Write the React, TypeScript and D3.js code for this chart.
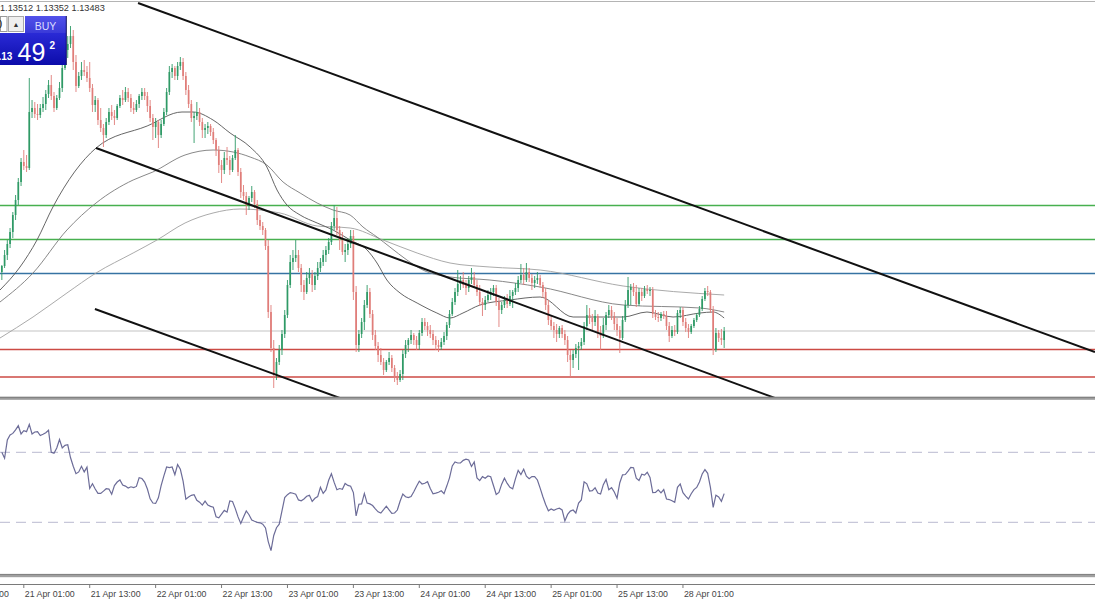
import React from "react";
import * as d3 from "d3";

// Prices are in points (1 point = 0.00001). Candles: [open, high, low, close], 30-minute bars.
const candles: number[][] = [
[113601,113615,113585,113613],[113613,113645,113609,113635],[113635,113665,113625,113657],[113657,113689,113649,113681],
[113681,113721,113669,113715],[113715,113755,113705,113745],[113745,113789,113735,113781],[113781,113829,113773,113821],
[113821,113845,113805,113813],[113813,113835,113801,113809],[113809,113989,113805,113921],[113921,113945,113909,113929],
[113929,113941,113909,113917],[113917,113937,113905,113915],[113915,113937,113909,113929],[113929,113951,113921,113937],
[113937,113965,113925,113957],[113957,113985,113949,113975],[113975,113995,113945,113953],[113953,113961,113921,113929],
[113929,113955,113925,113949],[113949,113981,113945,113969],[113969,114021,113961,114009],[114009,114065,114005,114045],
[114045,114073,114029,114057],[114057,114093,114049,114073],[114073,114085,114005,114021],[114021,114035,113961,113973],
[113973,114001,113969,113993],[113993,114021,113985,114005],[114005,114025,113993,114001],[114001,114013,113981,113989],
[113989,114021,113961,113969],[113969,113977,113921,113935],[113935,113953,113921,113945],[113945,113949,113895,113905],
[113905,113929,113881,113889],[113889,113897,113851,113875],[113875,113909,113869,113901],[113901,113929,113895,113921],
[113921,113935,113905,113913],[113913,113925,113895,113909],[113909,113937,113905,113933],[113933,113955,113929,113949],
[113949,113965,113935,113945],[113945,113971,113941,113961],[113961,113969,113941,113949],[113949,113957,113921,113929],
[113929,113941,113917,113925],[113925,113945,113921,113937],[113937,113957,113929,113953],[113953,113969,113945,113961],
[113961,113969,113945,113953],[113953,113961,113921,113933],[113933,113945,113901,113909],[113909,113917,113865,113891],
[113891,113909,113869,113901],[113901,113905,113849,113875],[113875,113905,113869,113897],[113897,113929,113893,113921],
[113921,113969,113915,113961],[113961,114013,113955,114001],[114001,114017,113989,114009],[114009,114013,113985,113993],
[113993,114021,113985,114013],[114013,114031,114005,114021],[114021,114029,113985,113993],[113993,114001,113955,113965],
[113965,113975,113929,113937],[113937,113945,113901,113909],[113909,113921,113859,113913],[113913,113941,113905,113921],
[113921,113929,113893,113901],[113901,113909,113869,113885],[113885,113897,113869,113889],[113889,113901,113877,113893],
[113893,113897,113873,113881],[113881,113889,113857,113865],[113865,113869,113833,113845],[113845,113853,113799,113815],
[113815,113825,113779,113805],[113805,113841,113797,113829],[113829,113851,113815,113825],[113825,113833,113795,113805],
[113805,113835,113801,113829],[113829,113875,113825,113845],[113845,113849,113793,113801],[113801,113809,113749,113761],
[113761,113775,113745,113753],[113753,113761,113715,113735],[113735,113753,113725,113749],[113749,113773,113741,113761],
[113761,113765,113729,113737],[113737,113745,113695,113705],[113705,113715,113685,113693],[113693,113701,113675,113685],
[113685,113689,113645,113653],[113653,113665,113509,113521],[113521,113535,113441,113449],[113449,113465,113369,113395],
[113395,113429,113385,113421],[113421,113455,113415,113445],[113445,113485,113435,113477],[113477,113525,113469,113515],
[113515,113585,113509,113575],[113575,113635,113569,113621],[113621,113645,113605,113629],[113629,113665,113621,113635],
[113635,113645,113601,113609],[113609,113617,113561,113575],[113575,113585,113545,113561],[113561,113601,113557,113589],
[113589,113609,113577,113597],[113597,113605,113561,113575],[113575,113601,113565,113593],[113593,113621,113585,113609],
[113609,113629,113601,113621],[113621,113645,113613,113635],[113635,113653,113621,113645],[113645,113669,113637,113661],
[113661,113701,113655,113693],[113693,113735,113685,113709],[113709,113731,113675,113685],[113685,113693,113645,113665],
[113665,113681,113635,113641],[113641,113657,113621,113645],[113645,113665,113635,113657],[113657,113685,113649,113673],
[113673,113685,113545,113561],[113561,113573,113441,113455],[113455,113485,113441,113477],[113477,113509,113469,113501],
[113501,113545,113485,113535],[113535,113575,113529,113561],[113561,113569,113509,113517],[113517,113525,113465,113475],
[113475,113485,113445,113453],[113453,113461,113421,113435],[113435,113449,113415,113421],[113421,113429,113395,113405],
[113405,113425,113401,113421],[113421,113441,113415,113429],[113429,113435,113401,113409],[113409,113415,113381,113389],
[113389,113401,113375,113385],[113385,113405,113381,113397],[113397,113445,113385,113437],[113437,113465,113429,113455],
[113455,113469,113441,113465],[113465,113485,113457,113475],[113475,113479,113455,113465],[113465,113473,113445,113455],
[113455,113485,113445,113479],[113479,113509,113473,113501],[113501,113509,113485,113493],[113493,113501,113473,113485],
[113485,113495,113469,113477],[113477,113485,113455,113465],[113465,113473,113445,113455],[113455,113465,113441,113451],
[113451,113469,113445,113461],[113461,113481,113455,113473],[113473,113501,113465,113495],[113495,113525,113489,113517],
[113517,113549,113513,113541],[113541,113569,113535,113561],[113561,113605,113553,113577],[113577,113593,113565,113585],
[113585,113601,113569,113575],[113575,113585,113555,113569],[113569,113593,113561,113585],[113585,113609,113577,113591],
[113591,113601,113569,113575],[113575,113585,113553,113561],[113561,113575,113533,113541],[113541,113549,113513,113535],
[113535,113553,113525,113545],[113545,113565,113541,113555],[113555,113569,113545,113561],[113561,113575,113553,113569],
[113569,113575,113533,113541],[113541,113549,113491,113525],[113525,113541,113517,113535],[113535,113553,113529,113545],
[113545,113557,113529,113537],[113537,113565,113533,113553],[113553,113565,113529,113561],[113561,113579,113555,113569],
[113569,113593,113561,113585],[113585,113617,113579,113595],[113595,113609,113575,113585],[113585,113619,113581,113601],
[113601,113609,113581,113589],[113589,113597,113565,113579],[113579,113593,113569,113585],[113585,113601,113577,113589],
[113589,113595,113569,113575],[113575,113581,113549,113561],[113561,113569,113525,113535],[113535,113545,113495,113505],
[113505,113515,113485,113493],[113493,113501,113469,113485],[113485,113497,113461,113477],[113477,113493,113469,113489],
[113489,113495,113469,113477],[113477,113485,113455,113465],[113465,113473,113421,113435],[113435,113445,113391,113425],
[113425,113445,113409,113437],[113437,113457,113429,113449],[113449,113461,113405,113453],[113453,113469,113445,113461],
[113461,113501,113455,113493],[113493,113535,113485,113515],[113515,113529,113497,113509],[113509,113517,113485,113501],
[113501,113525,113493,113513],[113513,113517,113469,113481],[113481,113493,113445,113473],[113473,113509,113469,113495],
[113495,113521,113485,113515],[113515,113535,113509,113525],[113525,113533,113505,113513],[113513,113521,113485,113497],
[113497,113509,113473,113485],[113485,113493,113439,113469],[113469,113513,113465,113505],[113505,113545,113501,113535],
[113535,113591,113529,113565],[113565,113577,113535,113571],[113571,113579,113553,113561],[113561,113575,113531,113537],
[113537,113569,113533,113561],[113561,113569,113543,113553],[113553,113573,113549,113567],[113567,113575,113557,113563],
[113563,113571,113553,113565],[113565,113571,113509,113517],[113517,113525,113505,113511],[113511,113521,113501,113509],
[113509,113521,113503,113517],[113517,113523,113507,113513],[113513,113523,113485,113493],[113493,113501,113461,113473],
[113473,113493,113469,113485],[113485,113495,113473,113481],[113481,113525,113477,113519],[113519,113531,113509,113525],
[113525,113531,113493,113501],[113501,113509,113481,113489],[113489,113497,113469,113481],[113481,113497,113477,113493],
[113493,113509,113489,113505],[113505,113519,113501,113515],[113515,113533,113511,113527],[113527,113553,113523,113547],
[113547,113569,113543,113563],[113563,113573,113553,113561],[113561,113565,113519,113525],[113525,113533,113435,113445],
[113445,113489,113441,113479],[113479,113485,113461,113469],[113469,113487,113455,113465],[113465,113491,113449,113483],
];

// RSI value for each bar
const rsiValues: number[] = [
70,66.6,77,79.9,80.8,82.8,85.2,80.5,82.4,81.8,
86,80.5,81.6,81.8,79.6,80.3,81.2,82.6,70,69.5,
72.5,77.3,72.5,74,74.3,67,62,57.8,58.8,62,
58.8,61.5,49.3,52,49,46.5,46.5,47.8,49.2,49,
46,51,53,54.2,51.3,50.7,49.6,50.3,49.8,50.5,
55.5,55,53,49,43.4,41,40.8,44,51,56.5,
61.6,61.3,61.6,57.2,63,60.3,53.5,43.2,44.5,45.4,
45.8,42.6,41.5,39.8,42.1,39.9,39.1,38.6,33.2,32.6,
34.7,36.8,35.8,42.2,41.9,37.8,33.1,29.3,33,36.5,
34.3,31.3,30.6,30,29.7,28.9,26.8,19,13.8,22.5,
26.9,28.9,36.5,44.1,45.8,47,46.6,46.1,42.8,42.3,
43.3,44.9,45.4,41.9,43.7,44.7,50,46.5,48.5,54,
57.7,52.8,48.6,49.3,48.9,52.2,51.1,50.6,47,33.7,
40.3,40.5,46.5,41,40.5,39.6,37.7,36,35.3,37.2,
39.2,37.1,35.1,35.3,37,42,46.1,44.6,44.1,44.7,
47.5,50.6,53.5,51.9,52.3,53.2,49.3,46.3,46.7,47.2,
48,46.4,50.7,55.4,62.2,64.5,63.9,63.9,65.4,66.1,
65.6,61.9,64.5,55.4,53.8,56.1,55.2,56.5,56,51,
45.9,47.1,51.8,55.2,52.2,50,49.1,54.8,59.7,57.3,
60.3,56.4,54.9,56.1,56.1,54.2,49.5,44.6,40.2,36.6,
37.6,36.8,37.6,38.1,37.1,30.8,34.5,36.4,37,35.3,
41,42.8,53.1,52,47.9,48.1,49.7,46.7,46.2,51.5,
54.5,48.6,49.8,47.3,43.8,52.6,57.1,57.3,59.3,61.4,
61.2,55.2,53.9,57.5,57,58.6,55.6,47,47.1,48.6,
46.8,48.7,43.3,43,42.3,41.4,50,51.9,46.9,44.9,
43.3,46.3,48.7,49.9,53,57.6,60.1,58,50,38.5,
45.5,44.5,42,46.4,
];
const rsiLevels = [70, 30];

// Moving averages: [bar index, price in points]
const fastMA: number[][] = [
[-0.67,113565],[6.62,113611],[12.8,113665],[18.6,113731],[34.3,113849],[52.9,113893],[65.6,113921],[69.6,113921],
[76.9,113905],[83.1,113879],[90.4,113851],[96.5,113811],[100.2,113765],[103.8,113735],[108.6,113715],[114.8,113699],
[120.6,113685],[126.8,113665],[133,113645],[136.6,113619],[140.2,113585],[145,113559],[151.2,113539],[158.4,113519],
[163.2,113509],[167.9,113519],[174.1,113535],[185,113545],[196,113551],[208,113511],[226.2,113511],[234.9,113521],
[244.4,113511],[254.2,113519],[258.9,113521],[263,113509],
];
const midMA: number[][] = [
[-0.67,113541],[11.35,113599],[23.7,113685],[34.3,113739],[47.8,113785],[55,113801],[66.7,113835],[76.9,113845],
[84.2,113841],[90.4,113831],[96.5,113815],[102.4,113781],[108.6,113759],[114.8,113739],[120.6,113725],[126.8,113715],
[131.5,113691],[136.6,113671],[141.3,113651],[147.5,113625],[153.3,113605],[163.2,113591],[177.7,113585],[196,113571],
[226.2,113535],[254.2,113529],[263,113521],
];
const slowMA: number[][] = [
[-0.67,113469],[11.35,113511],[23.7,113559],[34.3,113599],[47.8,113639],[56.5,113665],[66.7,113699],[76.9,113719],
[86.7,113727],[101.3,113719],[114.8,113693],[126.8,113689],[138.8,113665],[151.2,113639],[163.2,113619],[177.7,113611],
[196,113605],[226.2,113573],[263,113555],
];

// Horizontal levels (points)
const greenLevels = [113734, 113666];
const blueLevels = [113598];
const bidLevel = 113483;
const redLevels = [113446, 113391];

// Trend lines: [[bar, points], [bar, points]]
const trendLines: number[][][] = [
  [[49.6, 114139], [398, 113441]],
  [[34.3, 113849], [281.5, 113349]],
  [[33.9, 113527], [123.1, 113349]],
];

// Time axis labels every 24 bars
const timeLabels = ["20 Apr 13:00","21 Apr 01:00","21 Apr 13:00","22 Apr 01:00","22 Apr 13:00","23 Apr 01:00","23 Apr 13:00","24 Apr 01:00","24 Apr 13:00","25 Apr 01:00","25 Apr 13:00","28 Apr 01:00"];
const timeLabelBars = [-16, 8, 32, 56, 80, 104, 128, 152, 176, 200, 224, 248];

const headerValues = ["1.13512", "1.13352", "1.13483"];
const buyQuote = { big: ".13", pips: "49", frac: "2" };

const W = 1095;
const H = 600;
const PRICE_TOP = 0;
const PRICE_BOTTOM = 397;
const RSI_TOP = 399.8;
const RSI_BOTTOM = 574.8;
const AXIS_Y = 584.5;

export default function App() {
  const x = d3.scaleLinear().domain([0, 263]).range([1.83, 1.83 + 263 * 2.7465]);
  const y = d3.scaleLinear().domain([113351, 114145]).range([PRICE_BOTTOM, PRICE_TOP]);
  const yr = d3.scaleLinear().domain([0, 100]).range([RSI_BOTTOM, RSI_TOP]);

  const maLine = d3.line<number[]>().x((d) => x(d[0])).y((d) => y(d[1])).curve(d3.curveMonotoneX);
  const rsiLine = d3.line<number>().x((_, i) => x(i)).y((d) => yr(d));

  const green = "#2f9a66";
  const red = "#e07d79";

  return (
    <div>
      <style>{`body{margin:0;padding:0;background:#fff}`}</style>
      <svg width={W} height={H} style={{ display: "block" }} fontFamily="'Liberation Sans', Arial, sans-serif">
        <defs>
          <clipPath id="pc"><rect x={0} y={2} width={W} height={PRICE_BOTTOM - 2} /></clipPath>
          <clipPath id="rc"><rect x={0} y={RSI_TOP} width={W} height={RSI_BOTTOM - RSI_TOP} /></clipPath>
          <linearGradient id="bigBlue" x1="0" y1="0" x2="0" y2="1">
            <stop offset="0" stopColor="#2a2ad6" />
            <stop offset="1" stopColor="#0c0caa" />
          </linearGradient>
          <linearGradient id="hdrBlue" x1="0" y1="0" x2="0" y2="1">
            <stop offset="0" stopColor="#5252ea" />
            <stop offset="1" stopColor="#3a3ad8" />
          </linearGradient>
        </defs>
        <rect x={0} y={0} width={W} height={H} fill="#ffffff" />

        <line x1={0} x2={W} y1={1.5} y2={1.5} stroke="#b4b4b4" strokeWidth={1} />

        <g clipPath="url(#pc)">
          {greenLevels.map((p, i) => (
            <line key={"g" + i} x1={0} x2={W} y1={y(p)} y2={y(p)} stroke="#47b04f" strokeWidth={1.3} />
          ))}
          {blueLevels.map((p, i) => (
            <line key={"b" + i} x1={0} x2={W} y1={y(p)} y2={y(p)} stroke="#3673a3" strokeWidth={1.4} />
          ))}
          <line x1={0} x2={W} y1={y(bidLevel)} y2={y(bidLevel)} stroke="#c4c4c4" strokeWidth={1.1} />
          {redLevels.map((p, i) => (
            <line key={"r" + i} x1={0} x2={W} y1={y(p)} y2={y(p)} stroke="#cc4a44" strokeWidth={1.3} />
          ))}

          <path d={maLine(slowMA) || ""} fill="none" stroke="#a0a0a0" strokeWidth={0.9} />
          <path d={maLine(midMA) || ""} fill="none" stroke="#7a7a7a" strokeWidth={0.9} />
          <path d={maLine(fastMA) || ""} fill="none" stroke="#555555" strokeWidth={0.9} />

          {candles.map((c, i) => {
            const [o, h, l, cl] = c;
            const up = cl >= o;
            const col = up ? green : red;
            const cx = x(i);
            const yo = y(o);
            const yc = y(cl);
            const top = Math.min(yo, yc);
            const bh = Math.max(0.9, Math.abs(yo - yc));
            return (
              <g key={i}>
                <line x1={cx} x2={cx} y1={y(h)} y2={y(l)} stroke={col} strokeWidth={0.9} />
                <rect x={cx - 0.85} y={top} width={1.7} height={bh} fill={col} />
              </g>
            );
          })}

          {trendLines.map((t, i) => (
            <line key={"t" + i} x1={x(t[0][0])} y1={y(t[0][1])} x2={x(t[1][0])} y2={y(t[1][1])} stroke="#111111" strokeWidth={2} />
          ))}
        </g>

        <rect x={0} y={396.8} width={W} height={3} fill="#9c9c9c" />
        <line x1={0} x2={W} y1={397.3} y2={397.3} stroke="#7c7c7c" strokeWidth={1} />

        {rsiLevels.map((lv) => (
          <line key={lv} x1={0} x2={W} y1={yr(lv)} y2={yr(lv)} stroke="#b9b9d0" strokeWidth={1} strokeDasharray="10 6" />
        ))}
        <g clipPath="url(#rc)">
          <path d={rsiLine(rsiValues) || ""} fill="none" stroke="#6c6c98" strokeWidth={1.2} />
        </g>

        <rect x={0} y={574} width={W} height={3.2} fill="#a0a0a0" />
        <line x1={0} x2={W} y1={574.4} y2={574.4} stroke="#808080" strokeWidth={1} />

        <line x1={0} x2={W} y1={AXIS_Y} y2={AXIS_Y} stroke="#7a7a7a" strokeWidth={1} />
        {timeLabels.map((lab, i) => {
          const tx = x(timeLabelBars[i]);
          return (
            <g key={lab}>
              <line x1={tx} x2={tx} y1={AXIS_Y} y2={AXIS_Y + 3.5} stroke="#7a7a7a" strokeWidth={1} />
              <text x={tx + 1} y={597} fontSize={8.8} fill="#444">{lab}</text>
            </g>
          );
        })}

        <text x={0} y={11} fontSize={9.2} fill="#333">{headerValues.join(" ")}</text>

        <rect x={0.5} y={16.5} width={6.5} height={15} fill="#ffffff" stroke="#9a9a9a" />
        <text x={-3.5} y={28} fontSize={10} fill="#111">0</text>
        <rect x={8.5} y={16.5} width={15} height={15} fill="#efefef" stroke="#a8a8a8" />
        <text x={16} y={27} fontSize={7} fill="#333" textAnchor="middle">▲</text>
        <rect x={25} y={16} width={41} height={17} fill="url(#hdrBlue)" />
        <text x={45.5} y={29.5} fontSize={10.5} fill="#dcdcff" textAnchor="middle">BUY</text>
        <rect x={0} y={33} width={66} height={32} fill="url(#bigBlue)" />
        <line x1={66.3} x2={66.3} y1={16} y2={65} stroke="#05055e" strokeWidth={1} />
        <text x={-1.5} y={59.5} fontSize={10} fontWeight="bold" fill="#ffffff">{buyQuote.big}</text>
        <text x={17.5} y={60.5} fontSize={25} fill="#ffffff">{buyQuote.pips}</text>
        <text x={49.5} y={48.5} fontSize={10} fontWeight="bold" fill="#ffffff">{buyQuote.frac}</text>
      </svg>
    </div>
  );
}
